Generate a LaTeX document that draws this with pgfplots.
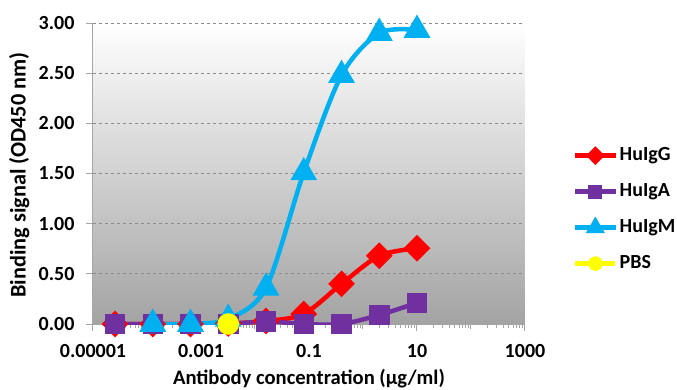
\documentclass[border=0pt]{standalone}
\usepackage{fontspec}
\setmainfont{Carlito}
\usepackage{pgfplots}
\pgfplotsset{compat=1.18}
\definecolor{cIgG}{HTML}{FF0000}
\definecolor{cIgA}{HTML}{7030A0}
\definecolor{cIgM}{HTML}{00B0F0}
\definecolor{cPBS}{HTML}{FFFF00}
\definecolor{gridc}{HTML}{8C8C8C}
\definecolor{axc}{HTML}{A6A6A6}
\definecolor{bgbot}{HTML}{A3A3A3}
\newcommand{\bigbf}{\fontsize{20}{24}\selectfont\bfseries}
\begin{document}
\begin{tikzpicture}
\path[use as bounding box] (-93pt,-65pt) rectangle (584pt,324pt);
\begin{axis}[
  at={(0pt,0pt)}, anchor=south west,
  scale only axis, width=432pt, height=301pt,
  xmode=log, xmin=1e-5, xmax=1000, ymin=0, ymax=3,
  axis x line=bottom, axis y line=left,
  axis line style={-, draw=axc, line width=1pt},
  axis background/.style={top color=white, bottom color=bgbot},
  ytick={0,0.5,1,1.5,2,2.5,3},
  xtick={1e-5,1e-3,1e-1,10,1000},
  xticklabels={0.00001,0.001,0.1,10,1000},
  extra x ticks={1e-4,1e-2,1,100},
  extra x tick labels={},
  extra x tick style={major tick length=5pt, grid=none},
  minor xtick={2e-5,3e-5,4e-5,5e-5,6e-5,7e-5,8e-5,9e-5,
    2e-4,3e-4,4e-4,5e-4,6e-4,7e-4,8e-4,9e-4,
    2e-3,3e-3,4e-3,5e-3,6e-3,7e-3,8e-3,9e-3,
    2e-2,3e-2,4e-2,5e-2,6e-2,7e-2,8e-2,9e-2,
    0.2,0.3,0.4,0.5,0.6,0.7,0.8,0.9,
    2,3,4,5,6,7,8,9,20,30,40,50,60,70,80,90,
    200,300,400,500,600,700,800,900},
  tick align=outside,
  major tick length=7pt, minor tick length=4pt,
  tick style={draw=axc, line width=1pt},
  ymajorgrids,
  grid style={draw=gridc, line width=0.8pt, dash pattern=on 3pt off 3pt},
  /pgf/number format/assume math mode=true,
  yticklabel style={/pgf/number format/fixed, /pgf/number format/fixed zerofill, /pgf/number format/precision=2},
  tick label style={font=\bigbf},
  yticklabel style={anchor=east, xshift=-8pt},
  xticklabel style={anchor=north, yshift=-10pt},
  xlabel={Antibody concentration (µg/ml)},
  ylabel={Binding signal (OD450 nm)},
  xlabel style={font=\fontsize{20.6}{24}\selectfont\bfseries, at={(axis description cs:0.5,-0.183)}, anchor=center},
  ylabel style={font=\fontsize{22.3}{26}\selectfont\bfseries, at={(axis description cs:-0.171,0.495)}, anchor=center},
  legend style={at={(axis description cs:1.111,0.38)}, anchor=west, draw=none, fill=none,
    font=\bigbf, inner sep=0pt, row sep=18pt,
    nodes={inner sep=0pt, text height=14pt, text depth=4pt, anchor=west}},
  legend cell align=left,
  legend image code/.code={\draw[mark repeat=2,mark phase=2,#1, every mark/.append style={scale=0.6}] plot coordinates {(0pt,0pt) (20pt,0pt) (40pt,0pt)};},
  /tikz/every odd column/.style={column sep=2pt},
]
\addplot[cIgG, line width=4.5pt, smooth, tension=0.5, mark=square*, mark size=7.2pt, mark options={rotate=45, solid}]
  coordinates {(0.0000256,0) (0.000128,0) (0.00064,0) (0.0032,0.005) (0.016,0.03) (0.08,0.10) (0.4,0.40) (2,0.68) (10,0.755)};
\addlegendentry{HuIgG}
\addplot[cIgA, line width=4.5pt, smooth, tension=0.5, mark=square*, mark size=8pt, mark options={solid}]
  coordinates {(0.0000256,0) (0.000128,0) (0.00064,0) (0.0032,0) (0.016,0.025) (0.08,0) (0.4,0) (2,0.09) (10,0.21)};
\addlegendentry{HuIgA}
\addplot[cIgM, line width=4.5pt, smooth, tension=0.5, mark=triangle*, mark size=11pt, mark options={solid}]
  coordinates {(0.000128,0) (0.00064,0) (0.0032,0.05) (0.016,0.36) (0.08,1.51) (0.4,2.48) (2,2.90) (10,2.93)};
\addlegendentry{HuIgM}
\addplot[cPBS, line width=4.5pt, mark=*, mark size=8.5pt, mark options={solid}]
  coordinates {(0.0032,0)};
\addlegendentry{PBS}
\end{axis}
\end{tikzpicture}
\end{document}
